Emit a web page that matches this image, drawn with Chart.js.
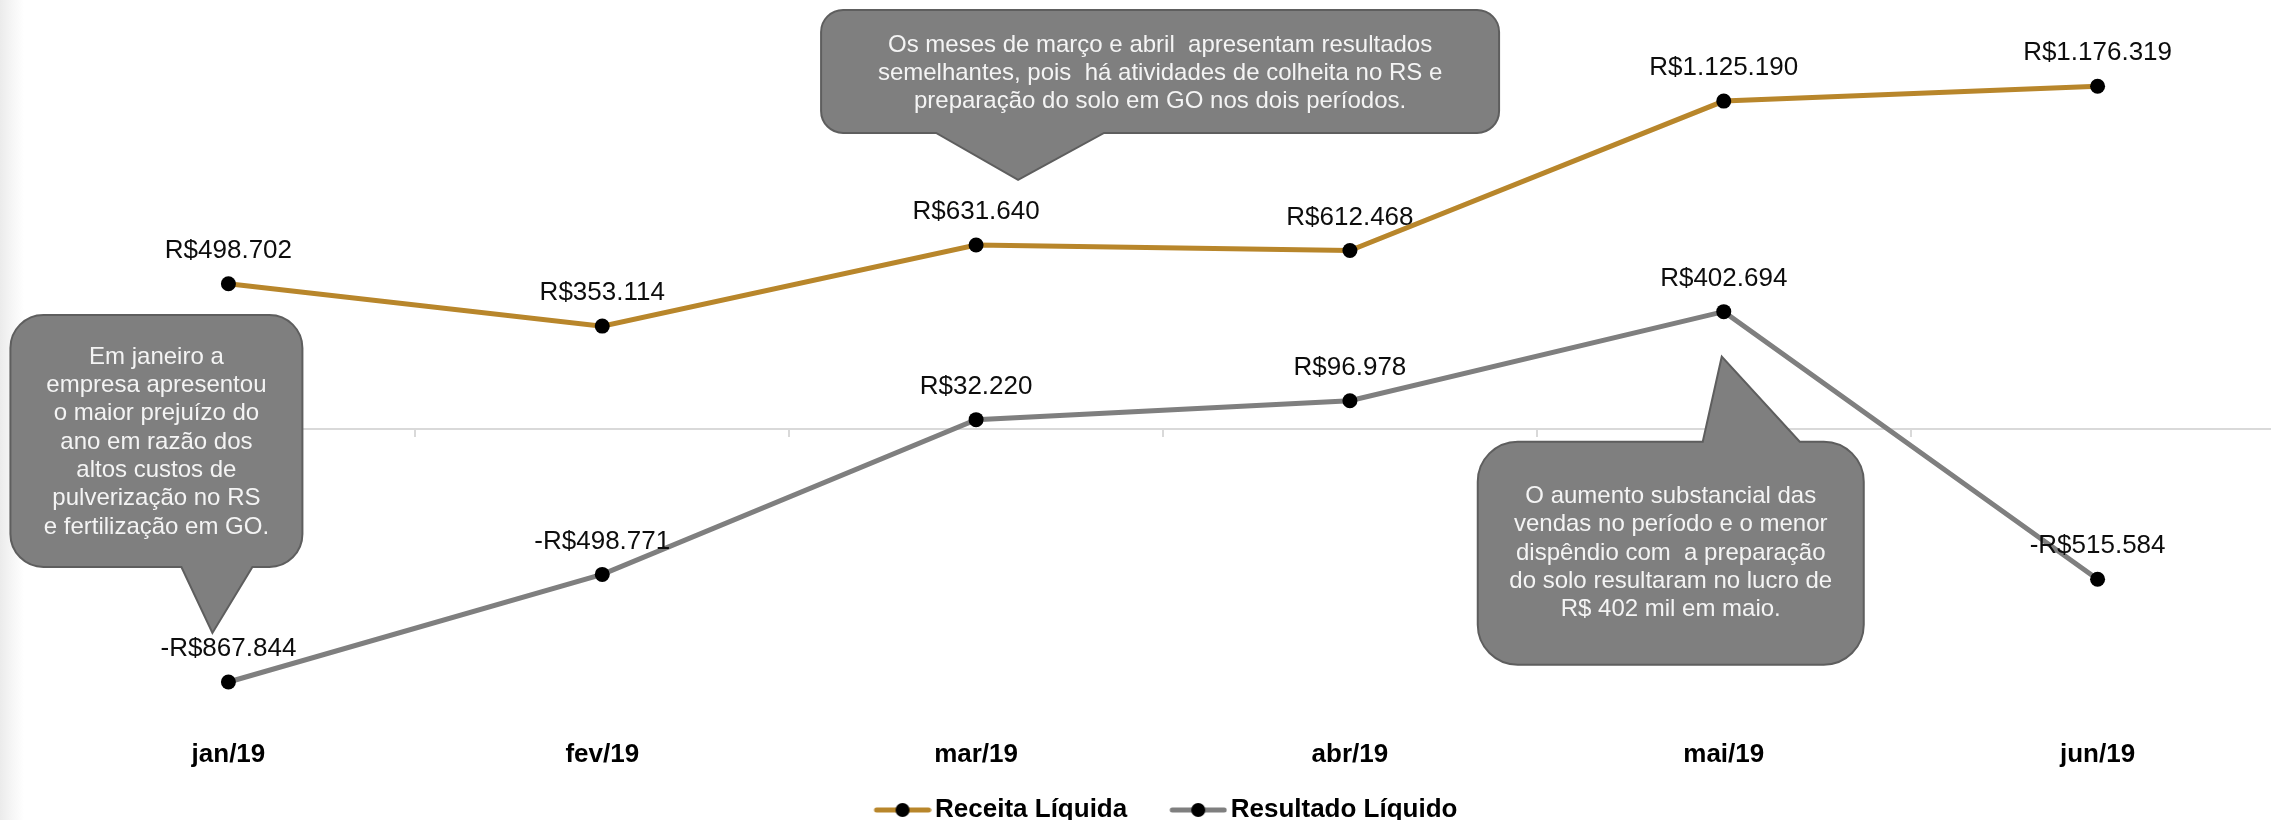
<!DOCTYPE html>
<html lang="pt-BR">
<head>
<meta charset="utf-8">
<title>Receita Líquida e Resultado Líquido - 2019</title>
<script src="https://cdn.jsdelivr.net/npm/chart.js@4.4.1/dist/chart.umd.min.js"></script>
<style>
  html, body { margin: 0; padding: 0; overflow: hidden; }
  body { width: 2271px; height: 820px; background: linear-gradient(to right, #ebebeb 0px, #f6f6f6 12px, #ffffff 24px); }
  #wrap { position: relative; width: 2292px; height: 820px; }
</style>
</head>
<body>
<div id="wrap"><canvas id="grafico" width="2292" height="820"></canvas></div>
<script>
// dados
const meses = ['jan/19', 'fev/19', 'mar/19', 'abr/19', 'mai/19', 'jun/19'];
const receitaLiquida = [498702, 353114, 631640, 612468, 1125190, 1176319];
const resultadoLiquido = [-867844, -498771, 32220, 96978, 402694, -515584];

const fonte = '"Liberation Sans", Arial, sans-serif';
const corReceita = '#b8862b';
const corResultado = '#7f7f7f';

// balões de comentário, presos a um ponto (dataset, índice)
const baloes = [
  { ds: 1, idx: 0, ponta: [-16, -49], caixa: [-202, -318, 90, -66], base: [-31, 40], raio: 33, lado: 'baixo', dy: 1,
    linhas: ['Em janeiro a', 'empresa apresentou', 'o maior prejuízo do', 'ano em razão dos', 'altos custos de', 'pulverização no RS', 'e fertilização em GO.'] },
  { ds: 0, idx: 2, ponta: [42, -65], caixa: [-197, -170, 481, -47], base: [-82, 86], raio: 22, lado: 'baixo', dy: 2,
    linhas: ['Os meses de março e abril  apresentam resultados', 'semelhantes, pois  há atividades de colheita no RS e', 'preparação do solo em GO nos dois períodos.'] },
  { ds: 1, idx: 4, ponta: [-2, 45], caixa: [-244, 85, 142, 308], base: [-19, 78], raio: 40, lado: 'cima', dy: 0,
    linhas: ['O aumento substancial das', 'vendas no período e o menor', 'dispêndio com  a preparação', 'do solo resultaram no lucro de', 'R$ 402 mil em maio.'] }
];

function moeda(v) {
  const s = Math.abs(v).toString().replace(/\B(?=(\d{3})+(?!\d))/g, '.');
  return (v < 0 ? '-' : '') + 'R$' + s;
}

// marcador da legenda: linha com ponto; margem vazia à esquerda para acertar espaçamento
function marcador(cor) {
  const m = 27;
  const c = document.createElement('canvas');
  c.width = 58 + m; c.height = 16;
  const g = c.getContext('2d');
  g.strokeStyle = cor; g.lineWidth = 5; g.lineCap = 'round';
  g.beginPath(); g.moveTo(m + 3, 8); g.lineTo(m + 55, 8); g.stroke();
  g.fillStyle = '#000';
  g.beginPath(); g.arc(m + 29, 8, 7, 0, Math.PI * 2); g.fill();
  return c;
}
const marcadores = [marcador(corReceita), marcador(corResultado)];

const rotulos = {
  id: 'rotulos',
  afterDatasetsDraw(chart) {
    const ctx = chart.ctx;
    ctx.save();
    ctx.font = '26px ' + fonte;
    ctx.fillStyle = '#0d0d0d';
    ctx.textAlign = 'center';
    ctx.textBaseline = 'middle';
    chart.data.datasets.forEach((ds, i) => {
      chart.getDatasetMeta(i).data.forEach((pt, j) => {
        ctx.fillText(moeda(ds.data[j]), pt.x, pt.y - 33);
      });
    });
    ctx.restore();
  }
};

function desenhaBalao(ctx, n, px, py) {
  const tx = px + n.ponta[0], ty = py + n.ponta[1];
  const l = tx + n.caixa[0], t = ty + n.caixa[1], r = tx + n.caixa[2], b = ty + n.caixa[3];
  const rr = n.raio;
  ctx.beginPath();
  ctx.moveTo(l + rr, t);
  if (n.lado === 'cima') {
    ctx.lineTo(tx + n.base[0], t); ctx.lineTo(tx, ty); ctx.lineTo(tx + n.base[1], t);
  }
  ctx.arcTo(r, t, r, b, rr);
  ctx.arcTo(r, b, l, b, rr);
  if (n.lado === 'baixo') {
    ctx.lineTo(tx + n.base[1], b); ctx.lineTo(tx, ty); ctx.lineTo(tx + n.base[0], b);
  }
  ctx.arcTo(l, b, l, t, rr);
  ctx.arcTo(l, t, r, t, rr);
  ctx.closePath();
  ctx.fillStyle = '#7f7f7f';
  ctx.fill();
  ctx.lineWidth = 2;
  ctx.strokeStyle = '#5e5e5e';
  ctx.stroke();

  ctx.fillStyle = '#f4f4f4';
  ctx.font = '24px ' + fonte;
  ctx.textAlign = 'center';
  ctx.textBaseline = 'middle';
  const lh = 28.3;
  const cy = (t + b) / 2 + n.dy - (n.linhas.length - 1) * lh / 2;
  n.linhas.forEach((txt, k) => ctx.fillText(txt, (l + r) / 2, cy + k * lh));
}

const comentarios = {
  id: 'comentarios',
  afterDraw(chart) {
    const ctx = chart.ctx;
    ctx.save();
    baloes.forEach(n => {
      const pt = chart.getDatasetMeta(n.ds).data[n.idx];
      desenhaBalao(ctx, n, pt.x, pt.y);
    });
    ctx.restore();
  }
};

// acerta a posição horizontal da legenda
const ajusteLegenda = {
  id: 'ajusteLegenda',
  afterLayout(chart) {
    chart.legend.left -= 10;
    chart.legend.right -= 10;
  }
};

new Chart(document.getElementById('grafico'), {
  type: 'line',
  data: {
    labels: meses,
    datasets: [
      { label: 'Receita Líquida', data: receitaLiquida, borderColor: corReceita, backgroundColor: '#000' },
      { label: 'Resultado Líquido', data: resultadoLiquido, borderColor: corResultado, backgroundColor: '#000' }
    ]
  },
  options: {
    responsive: false,
    animation: false,
    layout: { padding: { left: 41.5, right: 0, top: 21, bottom: -13 } },
    elements: {
      line: { borderWidth: 5, tension: 0, fill: false },
      point: { radius: 7.5, hoverRadius: 7.5, borderWidth: 0, backgroundColor: '#000', borderColor: '#000' }
    },
    scales: {
      x: {
        offset: true,
        grid: { display: false, drawTicks: false },
        border: { display: false },
        ticks: { color: '#000', font: { family: fonte, size: 26, weight: 'bold' }, padding: 19, maxRotation: 0, autoSkip: false },
        afterFit(s) { s.height = 52; }
      },
      x2: {
        type: 'category',
        position: { y: 0 },
        offset: true,
        grid: { display: true, drawOnChartArea: false, drawTicks: true, tickLength: 7, color: '#d9d9d9', lineWidth: 2, offset: true },
        border: { display: true, color: '#d9d9d9', width: 2 },
        ticks: { display: false }
      },
      y: { display: false, min: -1000000, max: 1400000 }
    },
    plugins: {
      tooltip: { enabled: false },
      legend: {
        position: 'bottom',
        labels: {
          usePointStyle: true,
          pointStyleWidth: 66,
          padding: 24.5,
          color: '#000',
          font: { family: fonte, size: 26, weight: 'bold' },
          generateLabels(chart) {
            const itens = Chart.defaults.plugins.legend.labels.generateLabels(chart);
            itens.forEach((it, i) => { it.pointStyle = marcadores[i]; });
            return itens;
          }
        }
      }
    }
  },
  plugins: [rotulos, comentarios, ajusteLegenda]
});
</script>
</body>
</html>
